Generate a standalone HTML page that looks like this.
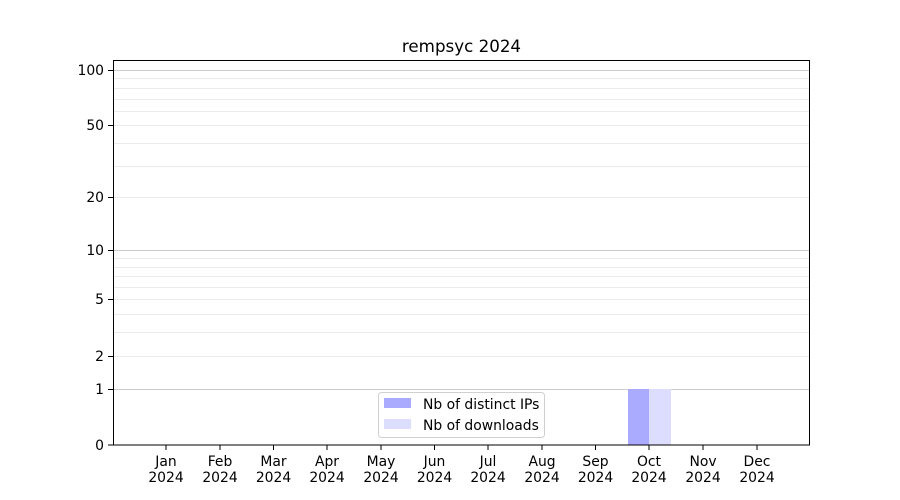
<!DOCTYPE html>
<html><head><meta charset="utf-8"><style>body{margin:0;background:#fff}svg{display:block}text{font-family:"DejaVu Sans","Liberation Sans",sans-serif;font-size:13.9px;fill:#000}</style></head><body>
<svg width="900" height="500" xmlns="http://www.w3.org/2000/svg">
<rect width="900" height="500" fill="#fff"/>
<g stroke="#ebebeb" stroke-width="1">
<line x1="113" x2="810" y1="356.5" y2="356.5"/>
<line x1="113" x2="810" y1="332.5" y2="332.5"/>
<line x1="113" x2="810" y1="314.5" y2="314.5"/>
<line x1="113" x2="810" y1="299.5" y2="299.5"/>
<line x1="113" x2="810" y1="287.5" y2="287.5"/>
<line x1="113" x2="810" y1="276.5" y2="276.5"/>
<line x1="113" x2="810" y1="267.5" y2="267.5"/>
<line x1="113" x2="810" y1="258.5" y2="258.5"/>
<line x1="113" x2="810" y1="197.5" y2="197.5"/>
<line x1="113" x2="810" y1="166.5" y2="166.5"/>
<line x1="113" x2="810" y1="143.5" y2="143.5"/>
<line x1="113" x2="810" y1="125.5" y2="125.5"/>
<line x1="113" x2="810" y1="111.5" y2="111.5"/>
<line x1="113" x2="810" y1="99.5" y2="99.5"/>
<line x1="113" x2="810" y1="88.5" y2="88.5"/>
<line x1="113" x2="810" y1="78.5" y2="78.5"/>
</g>
<g stroke="#cccccc" stroke-width="1">
<line x1="113" x2="810" y1="389.5" y2="389.5"/>
<line x1="113" x2="810" y1="250.5" y2="250.5"/>
<line x1="113" x2="810" y1="70.5" y2="70.5"/>
</g>
<rect x="628" y="389" width="21" height="56" fill="#aaaaff"/>
<rect x="649" y="389" width="22" height="56" fill="#ddddff"/>
<rect x="113.5" y="60.5" width="696" height="384.5" fill="none" stroke="#000" stroke-width="1"/>
<g stroke="#000">
<line x1="108" x2="113" y1="445" y2="445"/><line x1="108" x2="113" y1="389.5" y2="389.5"/><line x1="108" x2="113" y1="356.5" y2="356.5"/><line x1="108" x2="113" y1="299.5" y2="299.5"/><line x1="108" x2="113" y1="250.5" y2="250.5"/><line x1="108" x2="113" y1="197.5" y2="197.5"/><line x1="108" x2="113" y1="125.5" y2="125.5"/><line x1="108" x2="113" y1="70.5" y2="70.5"/>
</g>
<g text-anchor="end">
<text x="104" y="450">0</text><text x="104" y="394">1</text><text x="104" y="361">2</text><text x="104" y="304">5</text><text x="104" y="255">10</text><text x="104" y="202">20</text><text x="104" y="130">50</text><text x="104" y="75">100</text>
</g>
<g text-anchor="middle">
<g stroke="#000">
<line x1="166" x2="166" y1="445" y2="450"/><line x1="220" x2="220" y1="445" y2="450"/><line x1="273.5" x2="273.5" y1="445" y2="450"/><line x1="327" x2="327" y1="445" y2="450"/><line x1="381" x2="381" y1="445" y2="450"/><line x1="434.5" x2="434.5" y1="445" y2="450"/><line x1="488" x2="488" y1="445" y2="450"/><line x1="542" x2="542" y1="445" y2="450"/><line x1="595.5" x2="595.5" y1="445" y2="450"/><line x1="649" x2="649" y1="445" y2="450"/><line x1="703" x2="703" y1="445" y2="450"/><line x1="757" x2="757" y1="445" y2="450"/>
</g>
<text x="166" y="466">Jan</text><text x="166" y="482">2024</text>
<text x="220" y="466">Feb</text><text x="220" y="482">2024</text>
<text x="273.5" y="466">Mar</text><text x="273.5" y="482">2024</text>
<text x="327" y="466">Apr</text><text x="327" y="482">2024</text>
<text x="381" y="466">May</text><text x="381" y="482">2024</text>
<text x="434.5" y="466">Jun</text><text x="434.5" y="482">2024</text>
<text x="488" y="466">Jul</text><text x="488" y="482">2024</text>
<text x="542" y="466">Aug</text><text x="542" y="482">2024</text>
<text x="595.5" y="466">Sep</text><text x="595.5" y="482">2024</text>
<text x="649" y="466">Oct</text><text x="649" y="482">2024</text>
<text x="703" y="466">Nov</text><text x="703" y="482">2024</text>
<text x="757" y="466">Dec</text><text x="757" y="482">2024</text>
<text x="461.5" y="52" style="font-size:16.7px">rempsyc 2024</text>
</g>
<rect x="378.5" y="392.5" width="166" height="45" rx="3" fill="#fff" fill-opacity="0.8" stroke="#d0d0d0"/>
<rect x="384" y="398" width="27" height="10" fill="#aaaaff"/>
<rect x="384" y="419" width="27" height="10" fill="#ddddff"/>
<text x="423" y="409">Nb of distinct IPs</text>
<text x="423" y="430">Nb of downloads</text>
</svg>
</body></html>
